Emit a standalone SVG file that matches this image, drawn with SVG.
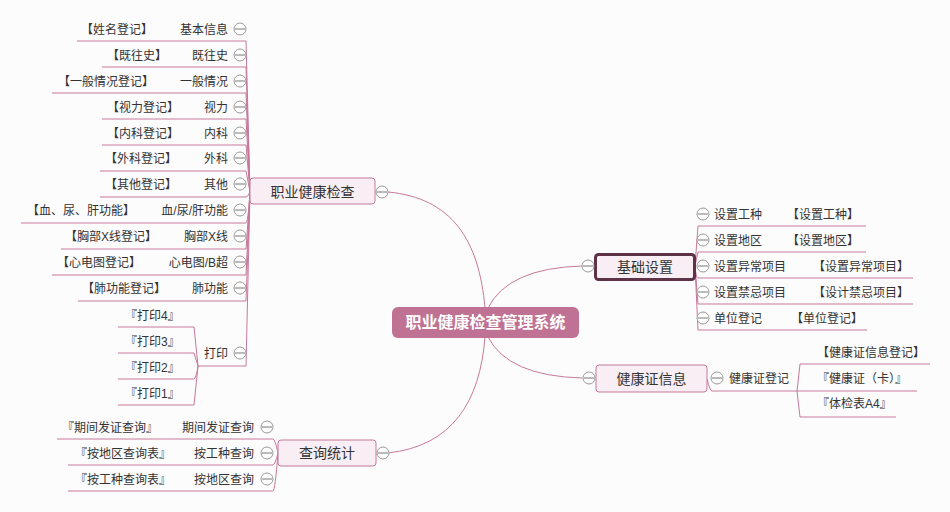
<svg xmlns="http://www.w3.org/2000/svg" width="950" height="512" viewBox="0 0 950 512">
<style>
text{font-family:'Liberation Sans','Noto Sans CJK SC',sans-serif;fill:#333;font-size:12px}
.e{text-anchor:end}
.m{text-anchor:middle}
.b{font-size:14px}
.c{font-size:16px;font-weight:bold;fill:#fff}
.ln{fill:none;stroke:#c6789a;stroke-width:1}
.bx{fill:#f8eef4;stroke:#c6789a;stroke-width:1}
.tg circle{fill:#fff;stroke:#999;stroke-width:1}
.tg path{stroke:#777;stroke-width:1}
</style>
<defs>
<g id="tog" class="tg"><circle cx="0" cy="0" r="6"/><path d="M-5,0H5"/></g>
</defs>
<rect width="950" height="512" fill="#fdfcfd"/>
<g id="connectors" class="ln">
<path d="M485,308 C479,240 452,198 388,192"/>
<path d="M488,308 Q508,268 582,266"/>
<path d="M488,337 Q508,376 582,378"/>
<path d="M485,337 C480,402 452,446 388,453"/>
<path d="M77,41H246L250,192"/>
<path d="M102,67H246L250,192"/>
<path d="M52,93H246L250,192"/>
<path d="M102,119H246L250,192"/>
<path d="M102,145H246L250,192"/>
<path d="M100,171H246L250,192"/>
<path d="M100,197H246Q248,197 250,192"/>
<path d="M21,223H246Q248,223 250,192"/>
<path d="M61,249H246L250,192"/>
<path d="M52,275H246L250,192"/>
<path d="M78,301H246L250,192"/>
<path d="M198,366H246L250,192"/>
<path d="M118,327H194L198,366"/>
<path d="M118,353H194L198,366"/>
<path d="M118,379H194Q196,379 198,366"/>
<path d="M118,405H194L198,366"/>
<path d="M57,439H273Q275,439 278,453"/>
<path d="M68,465H273Q275,465 278,453"/>
<path d="M68,491H273Q275,491 278,453"/>
<path d="M866,226H698L695,266"/>
<path d="M866,252H698L695,266"/>
<path d="M913,278H698Q696,278 695,266"/>
<path d="M913,304H698L695,266"/>
<path d="M867,330H698L695,266"/>
<path d="M707,379Q710,391 712,391H917"/>
<path d="M930,364H800L797,391"/>
<path d="M896,417H800L797,391"/>
</g>
<g id="root">
<rect x="392" y="307" width="187" height="31" rx="6" fill="#c07294"/>
<text class="c m" x="485.5" y="328">职业健康检查管理系统</text>
</g>
<g id="n-zyjkjc">
<rect class="bx" x="250" y="178" width="125" height="26" rx="3"/>
<text class="b m" x="312.5" y="197">职业健康检查</text>
<use href="#tog" x="382" y="192"/>
</g>
<g id="n-cxtj">
<rect class="bx" x="278" y="440" width="98" height="26" rx="3"/>
<text class="b m" x="327" y="458">查询统计</text>
<use href="#tog" x="383" y="453"/>
</g>
<g id="n-jcsz">
<rect x="595.5" y="254.5" width="99" height="25" rx="3" fill="#f8eef4" stroke="#5e3348" stroke-width="3"/>
<text class="b m" x="645" y="272">基础设置</text>
<use href="#tog" x="588" y="266"/>
</g>
<g id="n-jkzxx">
<rect class="bx" x="596" y="365" width="111" height="27" rx="3"/>
<text class="b m" x="651.5" y="384">健康证信息</text>
<use href="#tog" x="589" y="378"/>
</g>
<g id="l-jbxx"><text class="e" x="228" y="33.5">基本信息</text><use href="#tog" x="240" y="29"/><text x="81" y="33.5">【姓名登记】</text></g>
<g id="l-jws"><text class="e" x="228" y="59.5">既往史</text><use href="#tog" x="240" y="55"/><text x="107" y="59.5">【既往史】</text></g>
<g id="l-ybqk"><text class="e" x="228" y="85.5">一般情况</text><use href="#tog" x="240" y="81"/><text x="58" y="85.5">【一般情况登记】</text></g>
<g id="l-sl"><text class="e" x="228" y="111.5">视力</text><use href="#tog" x="240" y="107"/><text x="107" y="111.5">【视力登记】</text></g>
<g id="l-nk"><text class="e" x="228" y="137.5">内科</text><use href="#tog" x="240" y="133"/><text x="107" y="137.5">【内科登记】</text></g>
<g id="l-wk"><text class="e" x="228" y="162.5">外科</text><use href="#tog" x="240" y="158"/><text x="105" y="162.5">【外科登记】</text></g>
<g id="l-qt"><text class="e" x="228" y="188.5">其他</text><use href="#tog" x="240" y="184"/><text x="105" y="188.5">【其他登记】</text></g>
<g id="l-xng"><text class="e" x="228" y="214.5">血/尿/肝功能</text><use href="#tog" x="240" y="210"/><text x="27" y="214.5">【血、尿、肝功能】</text></g>
<g id="l-xbx"><text class="e" x="228" y="240.5">胸部X线</text><use href="#tog" x="240" y="236"/><text x="65" y="240.5">【胸部X线登记】</text></g>
<g id="l-xdt"><text class="e" x="228" y="266.5">心电图/B超</text><use href="#tog" x="240" y="262"/><text x="57" y="266.5">【心电图登记】</text></g>
<g id="l-fgn"><text class="e" x="228" y="292.5">肺功能</text><use href="#tog" x="240" y="288"/><text x="82" y="292.5">【肺功能登记】</text></g>
<g id="l-dy"><text class="e" x="228" y="357.5">打印</text><use href="#tog" x="240" y="353"/></g>
<g id="l-dy4"><text x="125" y="319.5">『打印4』</text></g>
<g id="l-dy3"><text x="125" y="345.5">『打印3』</text></g>
<g id="l-dy2"><text x="125" y="371.5">『打印2』</text></g>
<g id="l-dy1"><text x="125" y="397.5">『打印1』</text></g>
<g id="l-qjfz"><text class="e" x="254" y="431.5">期间发证查询</text><use href="#tog" x="267" y="427"/><text x="62" y="431.5">『期间发证查询』</text></g>
<g id="l-agz"><text class="e" x="254" y="457.5">按工种查询</text><use href="#tog" x="267" y="453"/><text x="75" y="457.5">『按地区查询表』</text></g>
<g id="l-adq"><text class="e" x="254" y="483.5">按地区查询</text><use href="#tog" x="267" y="479"/><text x="75" y="483.5">『按工种查询表』</text></g>
<g id="r-szgz"><use href="#tog" x="703" y="214"/><text x="714" y="218.5">设置工种</text><text x="787" y="218.5">【设置工种】</text></g>
<g id="r-szdq"><use href="#tog" x="703" y="240"/><text x="714" y="244.5">设置地区</text><text x="787" y="244.5">【设置地区】</text></g>
<g id="r-szyc"><use href="#tog" x="703" y="266"/><text x="714" y="270.5">设置异常项目</text><text x="813" y="270.5">【设置异常项目】</text></g>
<g id="r-szjj"><use href="#tog" x="703" y="292"/><text x="714" y="296.5">设置禁忌项目</text><text x="813" y="296.5">【设计禁忌项目】</text></g>
<g id="r-dwdj"><use href="#tog" x="703" y="318"/><text x="714" y="322.5">单位登记</text><text x="791" y="322.5">【单位登记】</text></g>
<g id="r-jkzdj"><use href="#tog" x="717" y="378"/><text x="729" y="382.5">健康证登记</text></g>
<g id="r-jkzxxdj"><text x="817" y="356.5">【健康证信息登记】</text></g>
<g id="r-jkzk"><text x="817" y="382.5">『健康证（卡）』</text></g>
<g id="r-tjb"><text x="817" y="407.5">『体检表A4』</text></g>
</svg>
